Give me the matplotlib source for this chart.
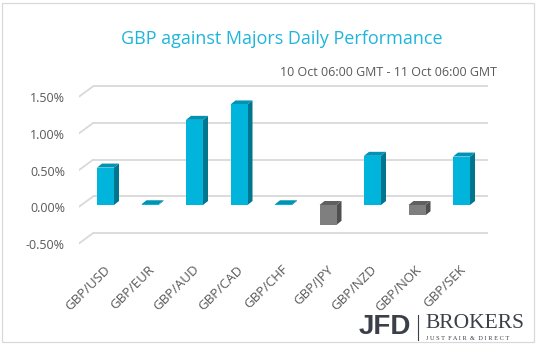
import matplotlib
matplotlib.use('Agg')
import matplotlib.pyplot as plt
from matplotlib.patches import Polygon, Rectangle
from matplotlib.transforms import offset_copy, ScaledTranslation

# ---------------------------------------------------------------------------
# Data
# ---------------------------------------------------------------------------
pairs = ['GBP/USD', 'GBP/EUR', 'GBP/AUD', 'GBP/CAD', 'GBP/CHF',
         'GBP/JPY', 'GBP/NZD', 'GBP/NOK', 'GBP/SEK']
change_pct = [0.51, 0.01, 1.16, 1.37, 0.01, -0.27, 0.67, -0.14, 0.66]
y_ticks = [-0.5, 0.0, 0.5, 1.0, 1.5]

title = 'GBP against Majors Daily Performance'
subtitle = '10 Oct 06:00 GMT - 11 Oct 06:00 GMT'

# ---------------------------------------------------------------------------
# Style
# ---------------------------------------------------------------------------
FONT = ['Open Sans', 'DejaVu Sans']
UP_FACE, UP_SIDE, UP_TOP = '#00B4DC', '#00758E', '#0093B3'
DN_FACE, DN_SIDE, DN_TOP = '#7F7F7F', '#4F4F4F', '#606060'
GRID = '#D9D9D9'
TEXT = '#595959'

W, H = 538, 351
PX_X = 44.5    # pixels per category
PX_Y = 73.4    # pixels per 1 %

fig = plt.figure(figsize=(W / 100, H / 100), dpi=100)
fig.patch.set_facecolor('white')
fig.add_artist(Rectangle((2 / W, 9 / H), 532 / W, 339 / H,
                         transform=fig.transFigure, fill=False,
                         edgecolor='#D9D9D9', lw=0.9))

# axes in the plane of the bar front faces
x0, x1 = -0.6, 8.6
y0, y1 = -0.75, 1.75
left_px = 105.5 + PX_X * x0
top_px = 205 - PX_Y * y1
ax = fig.add_axes([left_px / W, 1 - (top_px + PX_Y * (y1 - y0)) / H,
                   PX_X * (x1 - x0) / W, PX_Y * (y1 - y0) / H])
ax.set_xlim(x0, x1)
ax.set_ylim(y0, y1)
for s in ax.spines.values():
    s.set_visible(False)
ax.set_facecolor('none')

# back wall gridlines with slanted floor edge on the left
back = offset_copy(ax.transData, fig=fig, x=11.6, y=8.5, units='dots')
front = offset_copy(ax.transData, fig=fig, x=-3.4, y=-2.5, units='dots')
gx0, gx1 = -0.542, 8.492
for v in y_ticks:
    ax.plot([gx0, gx1], [v, v], color=GRID, lw=1.3, transform=back,
            solid_capstyle='butt', zorder=0)
    p_front = front.transform((gx0, v))
    p_back = back.transform((gx0, v))
    ax.plot([p_front[0], p_back[0]], [p_front[1], p_back[1]], color=GRID,
            lw=1.3, transform=None, zorder=0)

# bars: front face + side + top
xs = list(range(len(pairs)))
bw = 17 / PX_X
dx = 5 / PX_X
dy = 4 / PX_Y
for x, v in zip(xs, change_pct):
    face, side, top = (UP_FACE, UP_SIDE, UP_TOP) if v >= 0 else (DN_FACE, DN_SIDE, DN_TOP)
    lo, hi = min(0, v), max(0, v)
    xl, xr = x - bw / 2, x + bw / 2
    ax.add_patch(Polygon([(xr, lo), (xr + dx, lo + dy), (xr + dx, hi + dy), (xr, hi)],
                         closed=True, facecolor=side, edgecolor='none', zorder=2))
    ax.add_patch(Polygon([(xl, hi), (xr, hi), (xr + dx, hi + dy), (xl + dx, hi + dy)],
                         closed=True, facecolor=top, edgecolor='none', zorder=2))
ax.bar(xs, change_pct, width=bw,
       color=[UP_FACE if v >= 0 else DN_FACE for v in change_pct],
       zorder=3, linewidth=0)

# y tick labels sit in the front plane
ax.set_yticks(y_ticks)
ax.set_yticklabels([f'{v:.2f}%' for v in y_ticks], fontsize=9,
                   color=TEXT, family=FONT)
ax.tick_params(axis='y', length=0, pad=10)
shift = ScaledTranslation(0, -2.5 / 100, fig.dpi_scale_trans)
for lab in ax.get_yticklabels():
    lab.set_transform(lab.get_transform() + shift)

ax.set_xticks(xs)
ax.set_xticklabels(pairs, rotation=45, ha='right', rotation_mode='anchor',
                   fontsize=9.5, color=TEXT, family=FONT)
ax.tick_params(axis='x', length=0, pad=0)
shiftx = ScaledTranslation(-2 / 100, -3 / 100, fig.dpi_scale_trans)
for lab in ax.get_xticklabels():
    lab.set_transform(lab.get_transform() + shiftx)

# titles
fig.text(282 / W, 1 - 39 / H, title, ha='center', va='center',
         fontsize=13, color='#1FB5DA', family=FONT)
fig.text(497 / W, 1 - 73 / H, subtitle, ha='right', va='center',
         fontsize=9, color=TEXT, family=FONT)

# logo
fig.text(411 / W, 1 - 327 / H, 'JFD', ha='right', va='center',
         fontsize=20, fontweight='bold', color='#3B4048',
         family=['Liberation Sans Narrow', 'Liberation Sans', 'DejaVu Sans'])
fig.add_artist(plt.Line2D([418 / W, 418 / W], [1 - 340 / H, 1 - 315 / H],
                          color='#3B4048', lw=0.8))
fig.text(425 / W, 1 - 324 / H, 'BROKERS', ha='left', va='center',
         fontsize=15.5, color='#3B4048', family=['Liberation Serif', 'DejaVu Serif'])
fig.text(426 / W, 1 - 339 / H, 'J U S T  F A I R  &  D I R E C T', ha='left', va='center',
         fontsize=4.6, color='#3B4048', family=['Liberation Serif', 'DejaVu Serif'])

fig.savefig('out.png', dpi=100)
